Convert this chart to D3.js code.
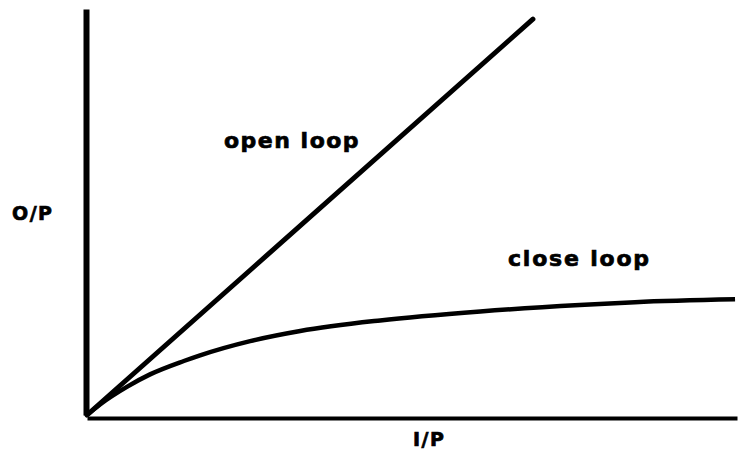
<!DOCTYPE html>
<html>
<head>
<meta charset="utf-8">
<script src="https://cdn.jsdelivr.net/npm/d3@7"></script>
<style>
  body { margin: 0; background: #fff; }
  .lbl { font-family: "DejaVu Sans", sans-serif; font-weight: bold; fill: #000; stroke: #000; stroke-width: 0.7px; }
</style>
</head>
<body>
<div id="chart"></div>
<script>
// I/P and O/P readings (arbitrary units, 0..100 on both axes)
const openLoopIn  = [0, 68.6];
const openLoopOut = [0, 97.5];

const closeLoopIn  = [0, 2.0, 6.2, 9.7, 14.9, 17.4, 25.1, 32.8, 45.1, 60.5, 75.8, 84.3, 99.7];
const closeLoopOut = [0, 2.6, 7.0, 10.0, 13.3, 14.7, 18.2, 20.7, 23.3, 25.5, 27.1, 27.8, 28.5];

const xTitle = "I/P";
const yTitle = "O/P";
const seriesNames = ["open loop", "close loop"];

const width = 741;
const height = 450;

const svg = d3.select("#chart")
  .append("svg")
  .attr("width", width)
  .attr("height", height);

// scales
const x = d3.scaleLinear().domain([0, 100]).range([87, 737]);
const y = d3.scaleLinear().domain([0, 100]).range([415, 9]);

// axes, just the bare lines
svg.append("g")
  .attr("transform", "translate(0,418)")
  .call(d3.axisBottom(x).ticks(0).tickSizeOuter(0))
  .select(".domain")
  .attr("stroke", "#000")
  .attr("stroke-width", 4);

svg.append("g")
  .attr("transform", "translate(86,0)")
  .call(d3.axisLeft(y).ticks(0).tickSizeOuter(0))
  .select(".domain")
  .attr("stroke", "#000")
  .attr("stroke-width", 6);

const line = d3.line()
  .x(d => x(d[0]))
  .y(d => y(d[1]))
  .curve(d3.curveMonotoneX);

// open loop
svg.append("path")
  .datum(d3.zip(openLoopIn, openLoopOut))
  .attr("d", line)
  .attr("fill", "none")
  .attr("stroke", "#000")
  .attr("stroke-width", 5)
  .attr("stroke-linecap", "round");

// close loop
svg.append("path")
  .datum(d3.zip(closeLoopIn, closeLoopOut))
  .attr("d", line)
  .attr("fill", "none")
  .attr("stroke", "#000")
  .attr("stroke-width", 4.5);

// labels
svg.append("text").attr("class", "lbl")
  .attr("x", 224).attr("y", 148)
  .attr("font-size", 22).attr("letter-spacing", 1.5)
  .text(seriesNames[0]);

svg.append("text").attr("class", "lbl")
  .attr("x", 508).attr("y", 266)
  .attr("font-size", 22).attr("letter-spacing", 1.8)
  .text(seriesNames[1]);

svg.append("text").attr("class", "lbl")
  .attr("x", 12).attr("y", 220)
  .attr("font-size", 19).attr("letter-spacing", 1.5)
  .text(yTitle);

svg.append("text").attr("class", "lbl")
  .attr("x", 413).attr("y", 446)
  .attr("font-size", 19).attr("letter-spacing", 1.5)
  .text(xTitle);
</script>
</body>
</html>
